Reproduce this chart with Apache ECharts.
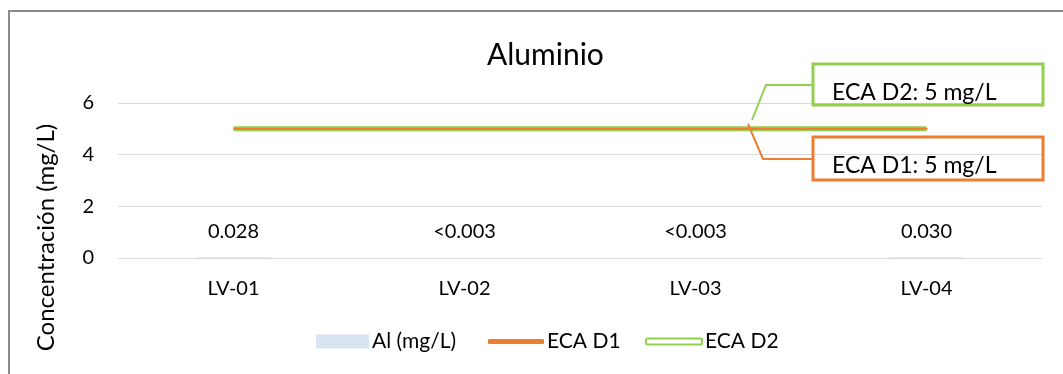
<!DOCTYPE html>
<html>
<head>
<meta charset="utf-8">
<script src="https://cdn.jsdelivr.net/npm/echarts@6/dist/echarts.min.js"></script>
<style>
html,body{margin:0;padding:0;background:#fff;}
#chart{width:1063px;height:374px;}
</style>
</head>
<body>
<div id="chart"></div>
<script>
const categories = ['LV-01', 'LV-02', 'LV-03', 'LV-04'];
const alValues = [0.028, 0.003, 0.003, 0.030];
const alLabels = ['0.028', '<0.003', '<0.003', '0.030'];
const ecaD1 = [5, 5, 5, 5];
const ecaD2 = [5, 5, 5, 5];
const yTicks = [0, 2, 4, 6];
const annotD1 = 'ECA D1: 5 mg/L';
const annotD2 = 'ECA D2: 5 mg/L';

const FONT = 'Lato';
const chart = echarts.init(document.getElementById('chart'));

function annotItem(v, i, text, color, pad, box) {
  if (i !== 3) return v;
  return {
    value: v,
    symbol: 'circle', symbolSize: 2,
    label: {
      show: true, formatter: text, fontFamily: FONT, fontSize: 23, color: '#000',
      lineHeight: 24, width: box.w - pad[3], padding: pad,
      borderColor: color, borderWidth: 1.5, backgroundColor: 'transparent', align: 'left'
    }
  };
}

const d2Box = { x: 813, y: 64, w: 230 };
const d1Box = { x: 813, y: 137, w: 230 };
const d2Line = [[752, 120], [766, 85], [813, 85]];
const d1Line = [[748, 124], [763, 159], [813, 159]];

const legendText = { fontFamily: FONT, fontSize: 21, color: '#000', padding: [0, 0, 0, -2] };

const option = {
  animation: false,
  backgroundColor: '#fff',
  title: {
    text: 'Aluminio', left: 482, top: 35,
    textStyle: { fontFamily: FONT, fontSize: 30, fontWeight: 'normal', color: '#000' }
  },
  grid: { left: 118, right: 21, top: 103, bottom: 116 },
  legend: [
    { data: ['Al (mg/L)'], left: 316, top: 331, padding: 0, icon: 'rect', itemWidth: 53, itemHeight: 14, itemGap: 5,
      textStyle: legendText },
    { data: ['ECA D1'], left: 488, top: 331, padding: 0, icon: 'roundRect', itemWidth: 56, itemHeight: 5,
      textStyle: legendText },
    { data: [{ name: 'ECA D2', itemStyle: { color: '#fff', borderColor: '#92D050', borderWidth: 2 } }],
      left: 645, top: 331, padding: 0, icon: 'roundRect', itemWidth: 56, itemHeight: 6,
      textStyle: legendText }
  ],
  xAxis: {
    type: 'category', data: categories,
    axisLine: { lineStyle: { color: '#d9d9d9', width: 1 } },
    axisTick: { show: false },
    axisLabel: { fontFamily: FONT, fontSize: 20, color: '#000', margin: 21 }
  },
  yAxis: {
    type: 'value', min: 0, max: 6, interval: 2,
    name: 'Concentración (mg/L)', nameLocation: 'middle', nameGap: 60,
    nameTextStyle: { fontFamily: FONT, fontSize: 24, color: '#000', padding: [0, 114, 0, 0] },
    axisLine: { show: false }, axisTick: { show: false },
    splitLine: { lineStyle: { color: '#d9d9d9', width: 1 } },
    axisLabel: { fontFamily: FONT, fontSize: 20, color: '#000', margin: 24,
      formatter: v => yTicks.includes(v) ? String(v) : '' }
  },
  series: [
    {
      name: 'Al (mg/L)', type: 'bar', data: alValues, barWidth: 75,
      itemStyle: { color: '#DAE3F3' },
      label: { show: true, position: 'top', distance: 16, fontFamily: FONT, fontSize: 20, color: '#000',
        formatter: p => alLabels[p.dataIndex] }
    },
    {
      name: 'ECA D2', type: 'line', z: 3, symbol: 'none', showSymbol: true,
      lineStyle: { color: '#92D050', width: 5 }, itemStyle: { color: '#92D050' },
      data: ecaD2.map((v, i) => annotItem(v, i, annotD2, '#92D050', [17, 0, 0, 19], d2Box)),
      labelLayout: function () {
        return { x: d2Box.x, y: d2Box.y, align: 'left', verticalAlign: 'top' };
      }
    },
    {
      name: 'ECA D1', type: 'line', z: 4, symbol: 'none', showSymbol: true,
      lineStyle: { color: '#ED7D31', width: 2 }, itemStyle: { color: '#ED7D31' },
      data: ecaD1.map((v, i) => annotItem(v, i, annotD1, '#ED7D31', [17, 0, 2, 19], d1Box)),
      labelLayout: function () {
        return { x: d1Box.x, y: d1Box.y, align: 'left', verticalAlign: 'top' };
      }
    }
  ],
  graphic: [
    { type: 'rect', silent: true, z: 100,
      shape: { x: 9, y: 11, width: 1200, height: 500 },
      style: { fill: 'none', stroke: '#898989', lineWidth: 2 } },
    { type: 'polyline', silent: true, z: 100, shape: { points: d2Line },
      style: { fill: 'none', stroke: '#92D050', lineWidth: 2 } },
    { type: 'polyline', silent: true, z: 100, shape: { points: d1Line },
      style: { fill: 'none', stroke: '#ED7D31', lineWidth: 2 } }
  ]
};
chart.setOption(option);
</script>
</body>
</html>
